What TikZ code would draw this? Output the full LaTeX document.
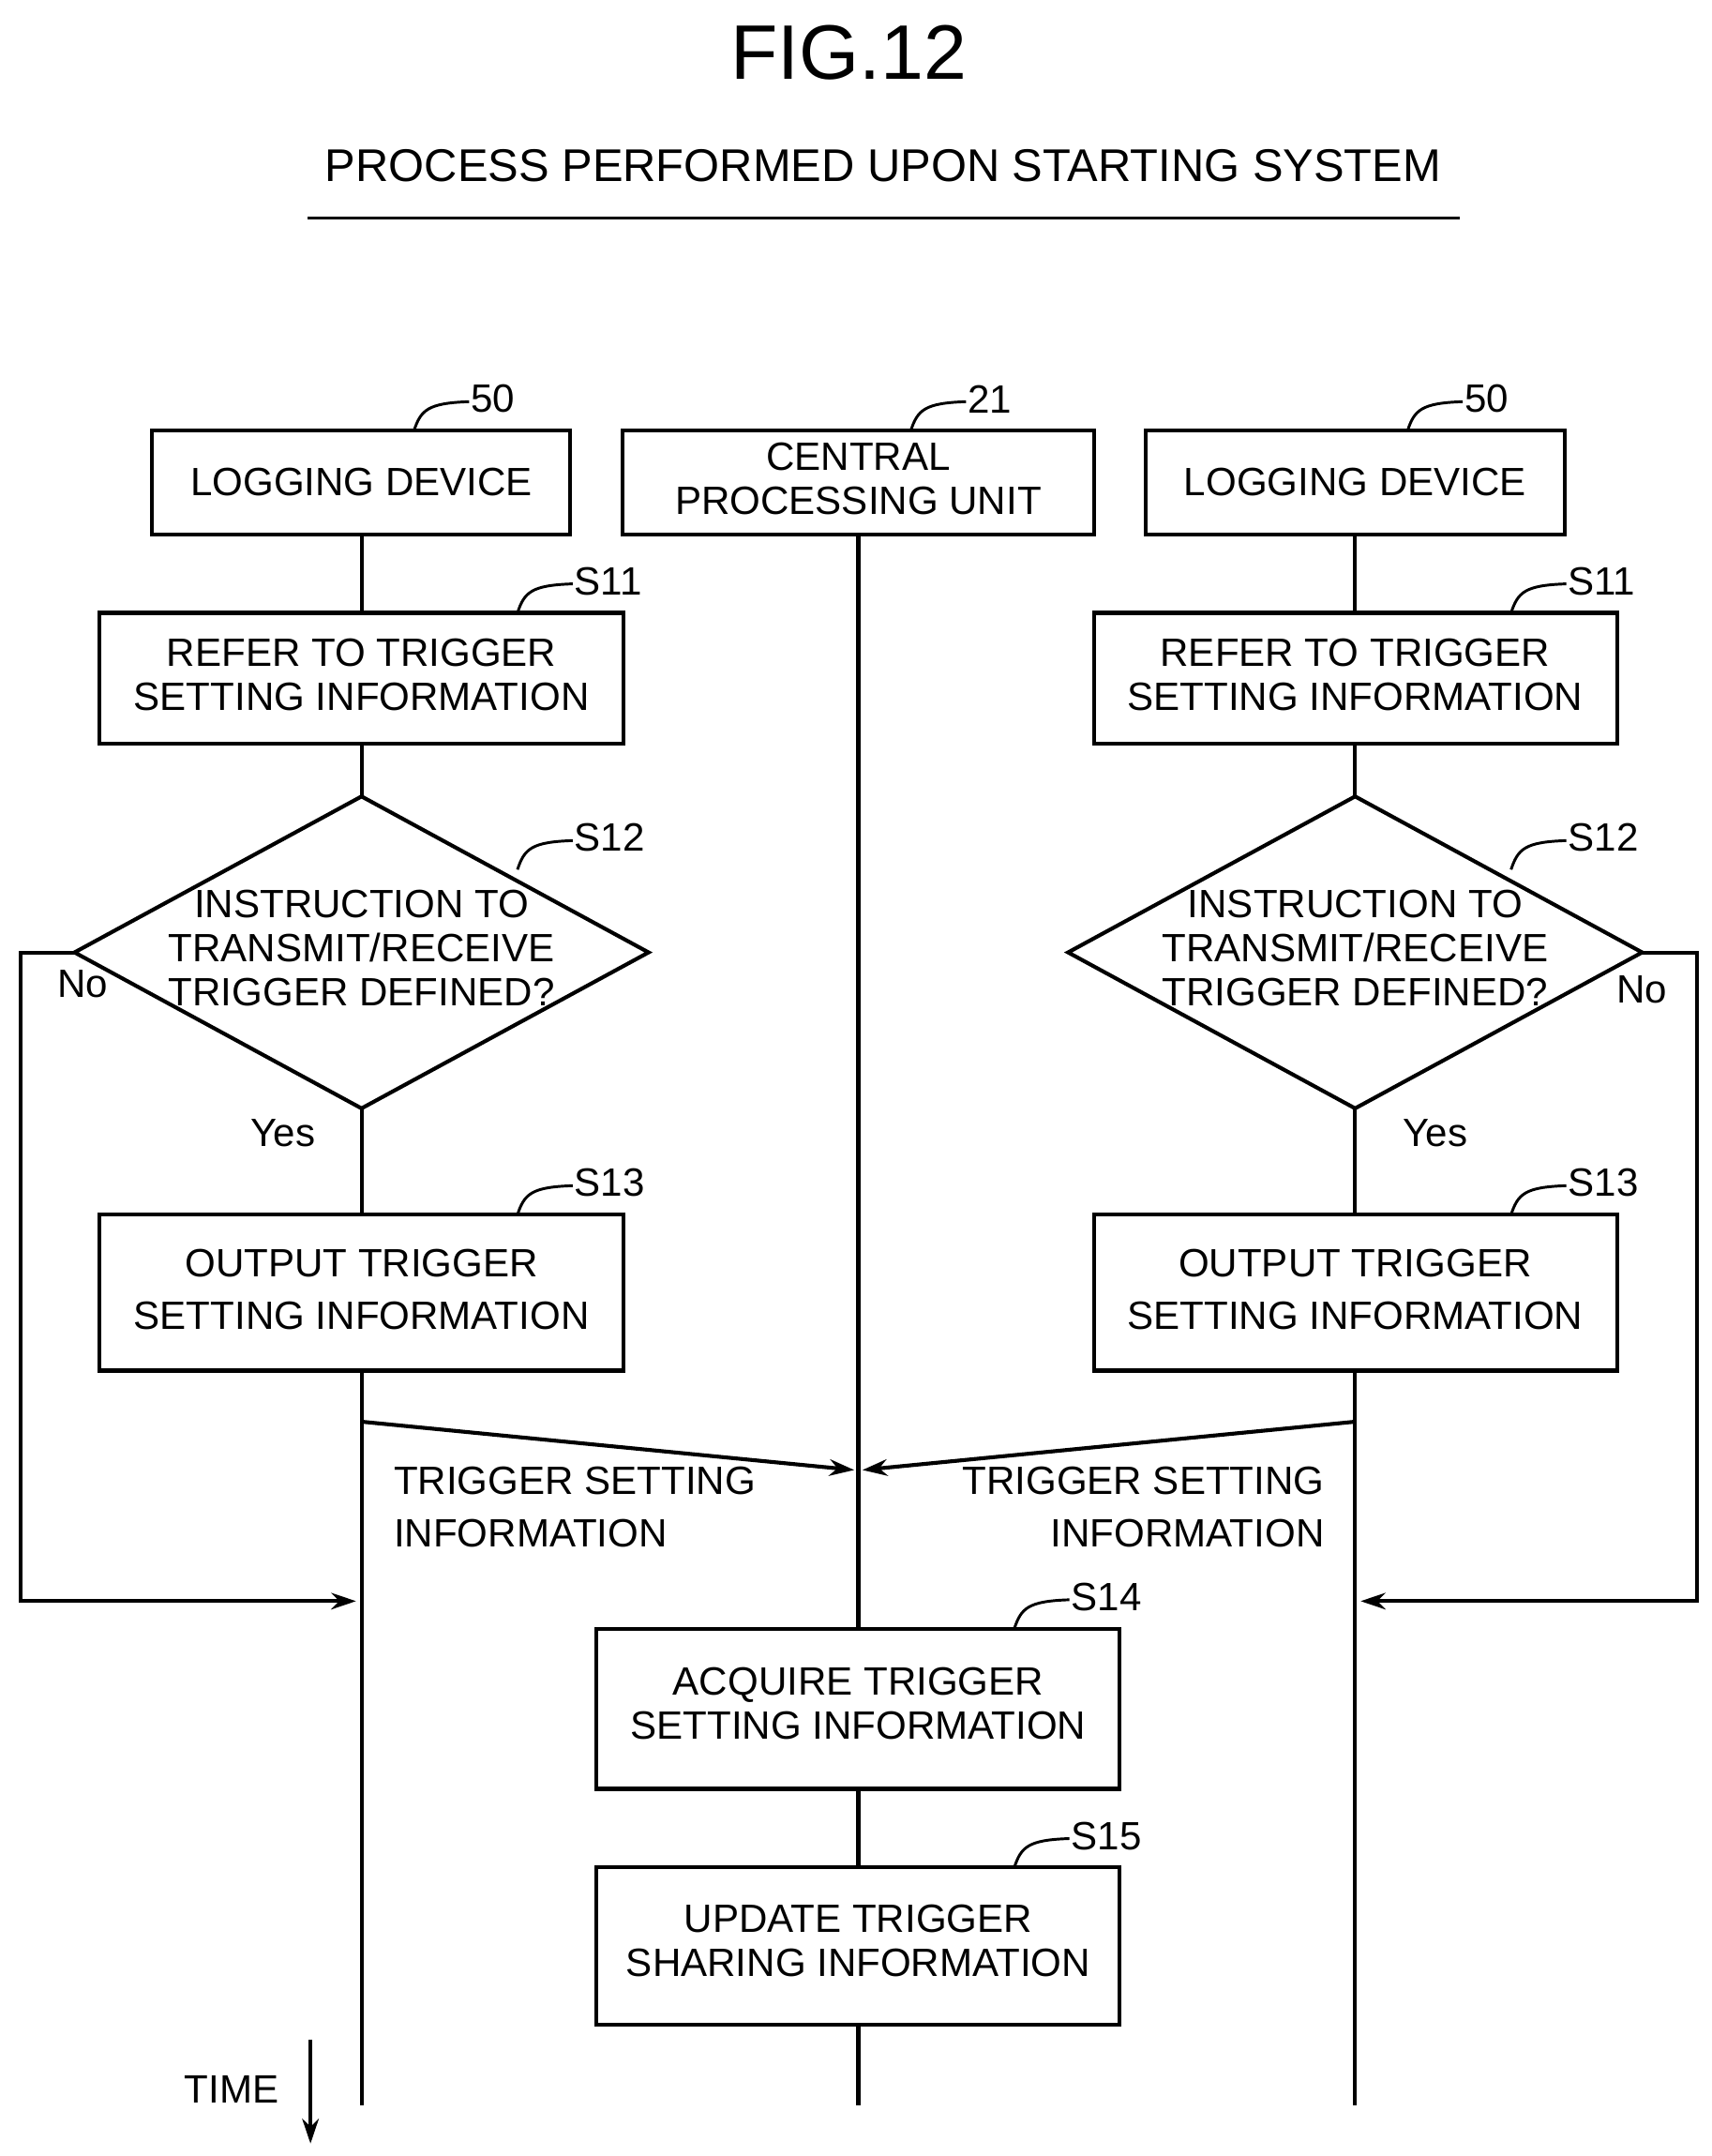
\documentclass[tikz,border=0pt]{standalone}
\usepackage{fontspec}
\setmainfont{Liberation Sans}
\usetikzlibrary{arrows.meta}
\begin{document}
\begin{tikzpicture}[x=0.5pt,y=-0.5pt,
  every node/.style={font=\fontsize{14.3}{16}\selectfont},
  ln/.style={line width=1.4pt},
  box/.style={ln,draw},
  lab/.style={anchor=west,inner sep=0},
  lead/.style={line width=1pt},
  arr/.style={ln,-{Stealth[length=9pt,width=6pt]}}]
\useasboundingbox (0,0) rectangle (1240,1562);
\node (title) at (615,38) {\fontsize{28}{30}\selectfont FIG.12};
\node (sub) at (640,120) {\fontsize{16.6}{18}\selectfont PROCESS PERFORMED UPON STARTING SYSTEM};
\draw[line width=1pt] (223,158) coordinate(u1) -- (1058,158) coordinate(u2);
% top boxes
\draw[box] (110,312) rectangle (413,387); \node (L) at (262,349) {LOGGING DEVICE};
\draw[box] (451,312) rectangle (793,387); \node[align=center] (C) at (622,347) {CENTRAL\\PROCESSING UNIT};
\draw[box] (830,312) rectangle (1134,387); \node (R) at (982,349) {LOGGING DEVICE};
% step boxes
\draw[box] (72,444) rectangle (452,539); \node[align=center] (s11l) at (262,489) {REFER TO TRIGGER\\SETTING INFORMATION};
\draw[box] (793,444) rectangle (1172,539); \node[align=center] (s11r) at (982,489) {REFER TO TRIGGER\\SETTING INFORMATION};
\draw[box] (54,690) coordinate(dlw) -- (262,577) -- (470,690) -- (262,803) -- cycle;
\node[align=center] (s12l) at (262,687) {INSTRUCTION TO\\TRANSMIT/RECEIVE\\TRIGGER DEFINED?};
\draw[box] (774,690) -- (982,577) -- (1190,690) coordinate(dre) -- (982,803) -- cycle;
\node[align=center] (s12r) at (982,687) {INSTRUCTION TO\\TRANSMIT/RECEIVE\\TRIGGER DEFINED?};
\draw[box] (72,880) rectangle (452,993); \node[align=center] (s13l) at (262,934) {OUTPUT TRIGGER\\[3pt]SETTING INFORMATION};
\draw[box] (793,880) rectangle (1172,993); \node[align=center] (s13r) at (982,934) {OUTPUT TRIGGER\\[3pt]SETTING INFORMATION};
\draw[box] (432,1180) rectangle (811,1296); \node[align=center] (s14) at (622,1234) {ACQUIRE TRIGGER\\SETTING INFORMATION};
\draw[box] (432,1353) rectangle (811,1467); \node[align=center] (s15) at (622,1406) {UPDATE TRIGGER\\SHARING INFORMATION};
% lifelines
\draw[ln] (262,387)--(262,444) (262,539)--(262,577) (262,803)--(262,880) (262,993)--(262,1525);
\draw[ln] (982,387)--(982,444) (982,539)--(982,577) (982,803)--(982,880) (982,993)--(982,1525);
\draw[ln] (622,387)--(622,1180) (622,1296)--(622,1353) (622,1467)--(622,1525);
% No loops
\draw[arr] (dlw) -- (15,690) -- (15,1160) -- (258,1160);
\draw[arr] (dre) -- (1230,690) -- (1230,1160) -- (986,1160);
% trigger arrows
\draw[arr] (262,1030) -- (619,1065);
\draw[arr] (982,1030) -- (625,1065);
\node[lab,align=left] (tl) at (285,1092) {TRIGGER SETTING\\[3pt]INFORMATION};
\node[anchor=east,inner sep=0,align=right] (tr) at (960,1092) {TRIGGER SETTING\\[3pt]INFORMATION};
\node (no1) at (60,713) {No}; \node (no2) at (1190,717) {No};
\node (y1) at (205,821) {Yes}; \node (y2) at (1040,821) {Yes};
% reference labels
\foreach \x/\y/\t in {300/312/50,660/312/21,1020/312/50,375/444/S11,1095/444/S11,375/630/S12,1095/630/S12,375/880/S13,1095/880/S13,735/1180/S14,735/1353/S15}{
  \draw[lead] (\x,\y) .. controls (\x+5,\y-15) and (\x+10,\y-20) .. (\x+40,\y-21);
  \node[lab] at (\x+41,\y-23) {\t};
}
\node (time) at (168,1514) {TIME};
\draw[arr] (225,1478) -- (225,1553);
\end{tikzpicture}
\end{document}
